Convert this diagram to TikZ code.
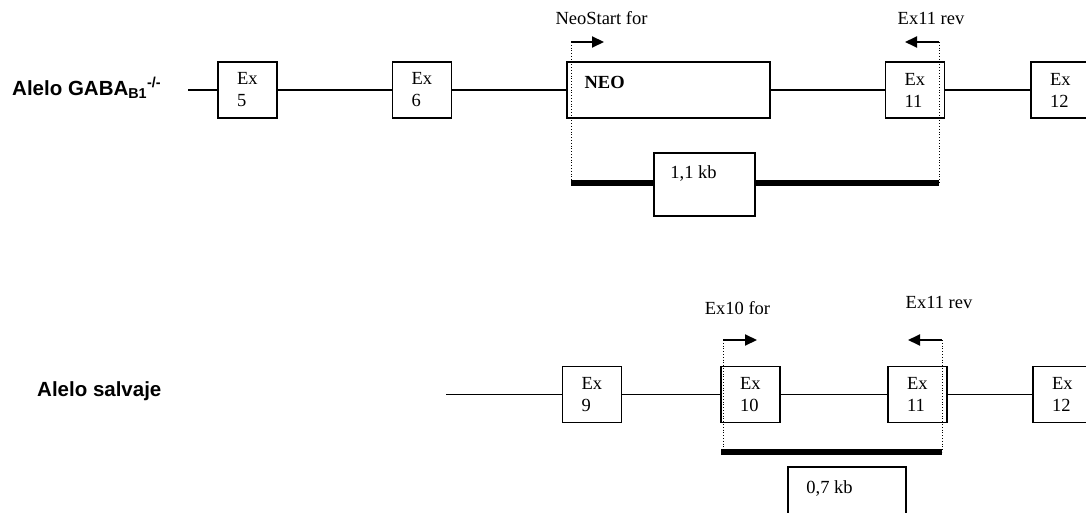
\documentclass[tikz,border=0pt]{standalone}
\usepackage{fontspec}
\setmainfont{Liberation Serif}
\newfontfamily\labfont{Liberation Sans}
\usetikzlibrary{arrows.meta}
\begin{document}
\begin{tikzpicture}[x=1pt,y=-1pt,
  every node/.style={font=\fontsize{18.5}{22}\selectfont},
  exbox/.style={draw, line width=1.3pt, minimum width=59pt, minimum height=56pt,
     inner xsep=19pt, inner ysep=0pt, text width=21pt, align=left, fill=white},
  plainbox/.style={draw, line width=1.3pt, inner sep=0pt, fill=white},
  gene/.style={line width=1.4pt},
  primer/.style={line width=2pt, -{Triangle[length=12pt,width=11pt]}},
  guide/.style={line width=0.8pt, dotted},
  product/.style={line width=6pt},
  plain/.style={inner sep=0pt},
  allele/.style={inner sep=0pt, anchor=west, font=\fontsize{20.5}{24}\selectfont\labfont\bfseries}]
\useasboundingbox (0,0) rectangle (1086,513);
\clip (0,0) rectangle (1086,513);
\fill[white] (0,0) rectangle (1086,513);

% ---- top: knockout allele ----
\node[allele] (lab1) at (12,88) {Alelo GABA\textsubscript{B1}\textsuperscript{-/-}};
\coordinate (t0) at (188,90);
\node[exbox] (a5) at (247.5,90) {Ex\\5};
\node[exbox] (a6) at (422,90) {Ex\\6};
\node[plainbox, minimum width=203pt, minimum height=56pt] (neo) at (668.5,90) {};
\node[plain, anchor=west, font=\fontsize{18.5}{22}\selectfont\bfseries] (neot) at ([xshift=18pt,yshift=8pt]neo.west) {NEO};
\node[exbox] (a11) at (915,90) {Ex\\11};
\node[exbox] (a12) at (1060.5,90) {Ex\\12};
\draw[gene] (t0) -- (a5.west);
\draw[gene] (a5.east) -- (a6.west);
\draw[gene] (a6.east) -- (neo.west);
\draw[gene] (neo.east) -- (a11.west);
\draw[gene] (a11.east) -- (a12.west);

\coordinate (p1) at (571,42);
\coordinate (p1h) at (604,42);
\coordinate (p2) at (939,42);
\coordinate (p2h) at (905,42);
\coordinate (b1) at (571,183);
\coordinate (b2) at (939,183);
\node[plain] (l1) at (601.5,18) {NeoStart for};
\node[plain] (l2) at (931,18) {Ex11 rev};
\draw[primer] (p1) -- (p1h);
\draw[primer] (p2) -- (p2h);
\draw[guide] (p1) -- (b1);
\draw[guide] (p2) -- (b2);
\draw[product] (b1) -- (b2);
\node[plainbox, minimum width=101pt, minimum height=63pt] (kb1) at (704.5,184.5) {};
\node[plain] (kb1t) at (693.5,174) {1,1 kb};

% ---- bottom: wild-type allele ----
\node[allele] (lab2) at (37,391) {Alelo salvaje};
\coordinate (w0) at (446,394.5);
\node[exbox] (w9) at (592,394.5) {Ex\\9};
\node[exbox] (w10) at (750.5,394.5) {Ex\\10};
\node[exbox] (w11) at (917.5,394.5) {Ex\\11};
\node[exbox] (w12) at (1062.5,394.5) {Ex\\12};
\draw[gene] (w0) -- (w9.west);
\draw[gene] (w9.east) -- (w10.west);
\draw[gene] (w10.east) -- (w11.west);
\draw[gene] (w11.east) -- (w12.west);

\coordinate (q1) at (723,340);
\coordinate (q1h) at (757,340);
\coordinate (q2) at (942,340);
\coordinate (q2h) at (908,340);
\coordinate (c1) at (723,452);
\coordinate (c2) at (942,452);
\node[plain] (m1) at (737.5,308) {Ex10 for};
\node[plain] (m2) at (939,302) {Ex11 rev};
\draw[primer] (q1) -- (q1h);
\draw[primer] (q2) -- (q2h);
\draw[guide] (q1) -- (c1);
\draw[guide] (q2) -- (c2);
\draw[product] ([xshift=-2pt]c1) -- (c2);
\node[plainbox, minimum width=118pt, minimum height=70pt] (kb2) at (847,502) {};
\node[plain] (kb2t) at (829.5,488) {0,7 kb};
\end{tikzpicture}
\end{document}
